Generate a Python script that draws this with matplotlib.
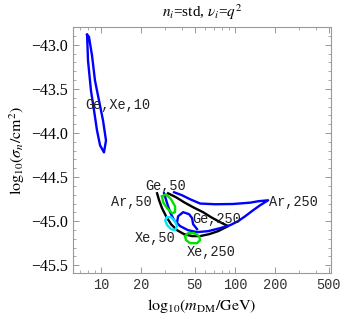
import matplotlib
matplotlib.use("Agg")
import matplotlib.pyplot as plt
import numpy as np

plt.rcParams['font.family'] = 'Liberation Serif'
plt.rcParams['mathtext.fontset'] = 'stix'

# contours in log10 units: x = log10(m/GeV), y = log10(sigma/cm^2)
gexe10_x = [0.896, 0.903, 0.925, 0.948, 0.970, 0.993, 1.022, 1.037, 1.015, 0.985, 0.955, 0.933, 0.910, 0.896]
gexe10_y = [-42.887, -43.181, -43.520, -43.746, -43.972, -44.141, -44.220, -44.085, -43.859, -43.633, -43.407, -43.124, -42.910, -42.887]

ar_x = [1.418, 1.433, 1.455, 1.485, 1.522, 1.567, 1.619, 1.679, 1.739, 1.806, 1.873, 1.948,
        1.888, 1.821, 1.761, 1.687, 1.619, 1.560, 1.500]
ar_y = [-44.684, -44.763, -44.853, -44.944, -45.034, -45.102, -45.147, -45.169, -45.169, -45.147, -45.113, -45.056,
        -45.011, -44.955, -44.898, -44.842, -44.785, -44.729, -44.684]

ge_x = [1.470, 1.493, 1.515, 1.545, 1.590, 1.649, 1.716, 1.799, 1.888, 1.963, 2.022, 2.075, 2.134, 2.187, 2.246,
        2.172, 2.112, 1.985, 1.851, 1.739, 1.664, 1.604, 1.545]
ge_y = [-44.684, -44.797, -44.898, -44.989, -45.056, -45.102, -45.124, -45.113, -45.079, -45.045, -45.000, -44.944,
        -44.876, -44.819, -44.763, -44.774, -44.790, -44.805, -44.808, -44.800, -44.751, -44.706, -44.672]

hook_x = [1.567, 1.575, 1.612, 1.657, 1.679, 1.687, 1.716]
hook_y = [-45.011, -44.944, -44.898, -44.921, -44.966, -45.034, -45.090]

cyan_x = [1.493, 1.522, 1.552, 1.567, 1.552, 1.522, 1.493, 1.478, 1.493]
cyan_y = [-44.955, -44.955, -45.000, -45.056, -45.102, -45.090, -45.045, -44.989, -44.955]

green1_x = [1.455, 1.485, 1.522, 1.552, 1.552, 1.530, 1.493, 1.463, 1.455]
green1_y = [-44.718, -44.695, -44.751, -44.831, -44.898, -44.910, -44.853, -44.785, -44.718]

green2_x = [1.627, 1.649, 1.694, 1.731, 1.739, 1.716, 1.664, 1.634, 1.627]
green2_y = [-45.169, -45.136, -45.136, -45.169, -45.215, -45.249, -45.249, -45.215, -45.169]

labels = ["Ge,Xe,10", "Ge,50", "Ar,50", "Ar,250", "Ge,250", "Xe,50", "Xe,250"]
label_x = [0.881, 1.478, 1.381, 2.254, 1.679, 1.552, 1.642]
label_y = [-43.68, -44.60, -44.785, -44.785, -44.977, -45.19, -45.35]
label_ha = ["left", "center", "right", "left", "left", "right", "left"]

xticks_val = [10, 20, 50, 100, 200, 500]
xminor_val = [7, 8, 9, 30, 40, 60, 70, 80, 90, 300, 400]

fig = plt.figure(figsize=(3.46, 3.19), dpi=100)
ax = fig.add_axes([0.211, 0.144, 0.746, 0.771])

lw = 1.7
ax.plot(gexe10_x, gexe10_y, color='#0000ff', lw=lw, solid_joinstyle='round')
ax.plot(ar_x, ar_y, color='black', lw=lw, solid_joinstyle='round')
ax.plot(ge_x, ge_y, color='#0000ff', lw=lw, solid_joinstyle='round')
ax.plot(hook_x, hook_y, color='#0000ff', lw=lw, solid_joinstyle='round')
ax.plot(cyan_x, cyan_y, color='#00e5ff', lw=lw, solid_joinstyle='round')
ax.plot(green1_x, green1_y, color='#00e000', lw=lw, solid_joinstyle='round')
ax.plot(green2_x, green2_y, color='#00e000', lw=lw, solid_joinstyle='round')

for t, x, y, ha in zip(labels, label_x, label_y, label_ha):
    ax.text(x, y, t, ha=ha, va='center', family='Liberation Mono', fontsize=9.8, color='#222222')

ax.set_xlim(0.791, 2.716)
ax.set_ylim(-45.588, -42.808)

ax.set_xticks(np.log10(xticks_val))
ax.set_xticklabels([str(v) for v in xticks_val], family='Liberation Mono', fontsize=9.8, color='#333333')
ax.set_xticks(np.log10(xminor_val), minor=True)
ax.set_yticks([-45.5, -45.0, -44.5, -44.0, -43.5, -43.0])
ax.set_yticklabels(['\u221245.5', '\u221245.0', '\u221244.5', '\u221244.0', '\u221243.5', '\u221243.0'], fontsize=11.5)
ax.set_yticks(np.arange(-45.5, -42.8, 0.1), minor=True)

ax.tick_params(which='both', direction='in', top=True, right=True, color='#888888')
ax.tick_params(which='major', length=4, width=0.6)
ax.tick_params(which='minor', length=2.2, width=0.5)
for s in ax.spines.values():
    s.set_color('#999999')
    s.set_linewidth(0.8)

ax.set_xlabel(r'$\mathrm{log}_{10}(m_{\mathrm{DM}}/\mathrm{GeV})$', fontsize=11.5, labelpad=4)
ax.set_ylabel(r'$\mathrm{log}_{10}(\sigma_n/\mathrm{cm}^2)$', fontsize=11.5, labelpad=3)
ax.set_title(r'$n_i$=std, $\nu_i$=$q^2$', fontsize=11, pad=7)

fig.savefig('out.png', dpi=100)
